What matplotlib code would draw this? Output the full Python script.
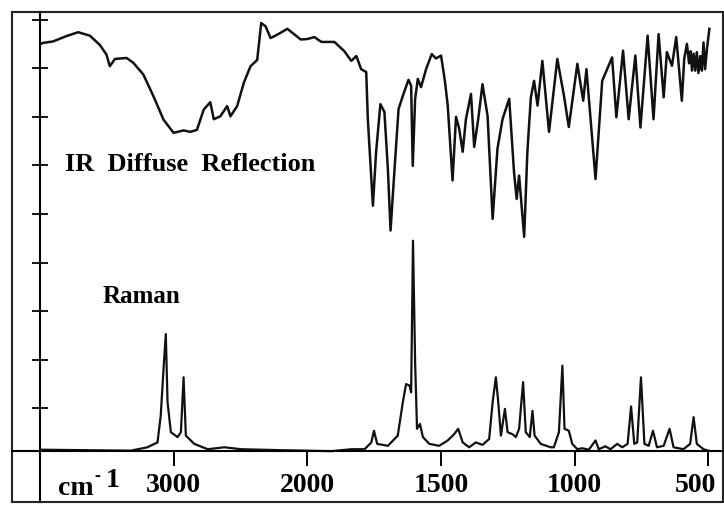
import matplotlib
matplotlib.use("Agg")
import matplotlib.pyplot as plt
import matplotlib.transforms as mtransforms
import numpy as np
from matplotlib.patches import Rectangle

plt.rcParams["font.family"] = ["Liberation Serif", "DejaVu Serif"]
plt.rcParams["font.weight"] = "bold"

# IR diffuse reflection trace (wavenumber in cm-1, intensity in tick units)
ir_wn = [3995, 3980, 3904, 3804, 3716, 3629, 3554, 3504, 3479, 3441,
         3353, 3303, 3228, 3152, 3077, 3002, 2927, 2877, 2827, 2776,
         2727, 2701, 2652, 2601, 2576, 2526, 2476, 2426, 2376, 2346,
         2313, 2276, 2225, 2150, 2050, 2000, 1974, 1948, 1899, 1862,
         1836, 1817, 1799, 1780, 1774, 1755, 1743, 1727, 1712, 1699,
         1689, 1674, 1659, 1643, 1622, 1612, 1606, 1597, 1587, 1575,
         1556, 1535, 1519, 1500, 1485, 1475, 1457, 1444, 1432, 1419,
         1407, 1388, 1376, 1361, 1345, 1326, 1307, 1289, 1270, 1245,
         1227, 1217, 1208, 1189, 1177, 1164, 1152, 1139, 1121, 1096,
         1065, 1040, 1022, 990, 968, 956, 922, 897, 860, 844,
         819, 798, 773, 754, 727, 705, 686, 667, 655, 636,
         620, 599, 590, 580, 572, 566, 561, 555, 549, 543,
         537, 530, 524, 518, 512, 505, 496]
ir_val = [8.50, 8.52, 8.55, 8.66, 8.74, 8.67, 8.48, 8.28, 8.04, 8.19,
          8.21, 8.11, 7.87, 7.42, 6.94, 6.67, 6.72, 6.69, 6.73, 7.15,
          7.30, 6.95, 7.01, 7.22, 7.01, 7.22, 7.70, 8.04, 8.17, 8.93,
          8.86, 8.62, 8.69, 8.81, 8.59, 8.60, 8.64, 8.54, 8.54, 8.35,
          8.15, 8.25, 7.98, 7.92, 6.95, 5.17, 6.28, 7.26, 7.10, 5.93,
          4.66, 5.93, 7.16, 7.43, 7.76, 7.64, 5.99, 7.37, 7.78, 7.61,
          7.98, 8.29, 8.20, 8.26, 7.71, 7.23, 5.69, 7.00, 6.75, 6.28,
          6.95, 7.47, 6.38, 6.95, 7.67, 7.02, 4.90, 6.34, 6.95, 7.37,
          5.86, 5.31, 5.79, 4.53, 6.28, 7.40, 7.74, 7.23, 8.15, 6.69,
          8.19, 7.43, 6.79, 8.09, 7.33, 7.98, 5.72, 7.74, 8.22, 6.99,
          8.36, 6.95, 8.26, 6.78, 8.67, 6.95, 8.70, 7.40, 8.33, 8.05,
          8.64, 7.33, 8.20, 8.50, 8.10, 8.35, 7.95, 8.30, 7.95, 8.33,
          7.90, 8.25, 7.95, 8.53, 7.98, 8.40, 8.81]

# Raman trace
raman_wn = [3995, 3323, 3198, 3122, 3098, 3077, 3060, 3047, 3022, 2972,
            2947, 2927, 2910, 2847, 2746, 2622, 2496, 2195, 1910, 1836,
            1786, 1761, 1751, 1739, 1699, 1662, 1643, 1631, 1618, 1612,
            1605, 1597, 1590, 1579, 1568, 1544, 1507, 1475, 1451, 1436,
            1419, 1395, 1370, 1345, 1320, 1307, 1295, 1286, 1276, 1261,
            1251, 1233, 1220, 1208, 1193, 1183, 1168, 1158, 1150, 1127,
            1090, 1078, 1059, 1046, 1038, 1022, 1009, 990, 972, 947,
            922, 910, 885, 866, 841, 822, 802, 789, 777, 766,
            752, 739, 723, 707, 692, 667, 645, 630, 593, 568,
            555, 543, 518, 499]
raman_val = [0.15, 0.13, 0.20, 0.30, 0.85, 1.81, 2.53, 1.13, 0.51, 0.41,
             0.51, 1.64, 0.44, 0.27, 0.16, 0.20, 0.16, 0.14, 0.12, 0.16,
             0.16, 0.30, 0.54, 0.27, 0.23, 0.44, 1.13, 1.50, 1.47, 1.33,
             4.45, 1.95, 0.58, 0.68, 0.41, 0.27, 0.23, 0.34, 0.47, 0.58,
             0.30, 0.20, 0.30, 0.25, 0.37, 1.13, 1.64, 1.13, 0.44, 0.99,
             0.51, 0.47, 0.41, 0.58, 1.54, 0.51, 0.41, 0.95, 0.44, 0.27,
             0.20, 0.20, 0.51, 1.88, 0.58, 0.54, 0.27, 0.16, 0.18, 0.15,
             0.34, 0.16, 0.22, 0.16, 0.27, 0.20, 0.27, 1.04, 0.27, 0.30,
             1.64, 0.27, 0.23, 0.54, 0.20, 0.23, 0.58, 0.20, 0.16, 0.27,
             0.82, 0.27, 0.16, 0.13]

xtick_wn = [3000, 2000, 1500, 1000, 500]
xtick_labels = ["3000", "2000", "1500", "1000", "500"]


# wavenumber axis is compressed by half above 2000 cm-1
def fwd(w):
    w = np.asarray(w, dtype=float)
    return np.where(w >= 2000, 0.5 * (w - 2000), w - 2000)


def inv(u):
    u = np.asarray(u, dtype=float)
    return np.where(u >= 0, 2000 + 2 * u, 2000 + u)


fig = plt.figure(figsize=(7.24, 5.06), dpi=100)
ax = fig.add_axes([12 / 724, 3 / 506, 711 / 724, 490 / 506])
ax.set_xscale("function", functions=(fwd, inv))

ax.plot(ir_wn, ir_val, color="#111111", lw=1.8)
ax.plot(raman_wn, raman_val, color="#111111", lw=1.6)

ax.set_xlim(4211, 445)
ax.set_ylim(-0.926, 9.156)

ax.spines["left"].set_position(("data", 4000))
ax.spines["bottom"].set_position(("data", 0.123))
ax.spines["left"].set_linewidth(1.5)
ax.spines["bottom"].set_linewidth(1.5)
for s in ["top", "right"]:
    ax.spines[s].set_visible(False)
ax.add_patch(Rectangle((0, 0), 1, 1, transform=ax.transAxes, fill=False,
                       lw=1.5, color="#222222", clip_on=False))

ax.set_xticks(xtick_wn)
ax.set_xticklabels(xtick_labels, fontsize=20, fontweight="bold")
ax.set_xticks([], minor=True)
ax.set_yticks(range(1, 10))
ax.set_yticklabels([])
ax.tick_params(axis="x", direction="out", length=11, width=1.4, pad=4)
ax.tick_params(axis="y", direction="inout", length=12, width=1.3)

# keep the last label inside the frame
last = ax.get_xticklabels()[-1]
shift = mtransforms.ScaledTranslation(-9 / 72, 0, fig.dpi_scale_trans)
last.set_transform(last.get_transform() + shift)

ax.text(3812, 6.03, "IR  Diffuse  Reflection", fontsize=19,
        fontweight="bold", ha="left", va="center")
ax.text(3534, 3.33, "Raman", fontsize=18, fontweight="bold",
        ha="left", va="center")

# unit label under the axis
ax.text(3865, -0.76, "cm", fontsize=20, fontweight="bold",
        ha="left", va="baseline")
ax.text(3571, -0.39, "-", fontsize=13, fontweight="bold",
        ha="center", va="center")
ax.text(3511, -0.60, "1", fontsize=20, fontweight="bold",
        ha="left", va="baseline")

fig.savefig("out.png", dpi=100)
